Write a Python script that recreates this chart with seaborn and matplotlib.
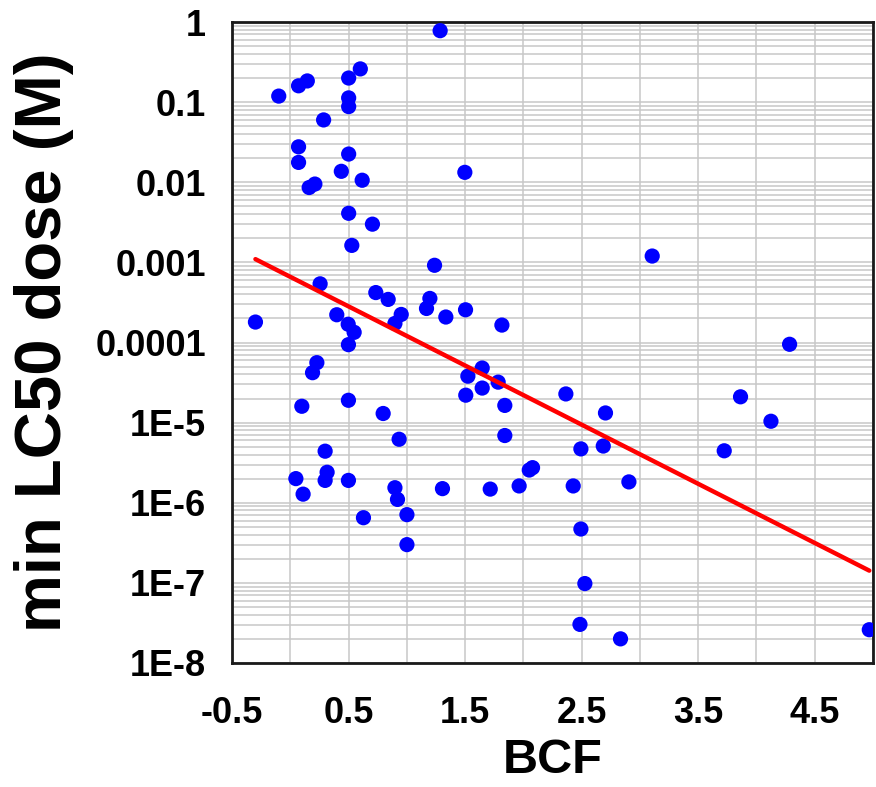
import numpy as np
import pandas as pd
import matplotlib
matplotlib.use("Agg")
import matplotlib.pyplot as plt
import seaborn as sns
from matplotlib.ticker import LogLocator, NullFormatter, MultipleLocator

bcf = [-0.30, -0.10, 0.07, 0.145, 0.50, 0.60, 0.50, 0.50, 0.285, 0.07, 0.07, 0.50,
       0.437, 0.616, 0.161, 0.21, 0.50, 0.704, 0.527, 1.285, 1.497, 1.237, 3.105, 0.255,
       0.733, 0.839, 1.197, 1.168, 1.503, 1.334, 0.951, 0.897, 0.398, 0.496,
       0.547, 0.498, 1.815, 0.227, 0.19, 1.646, 1.523, 1.783, 1.646, 1.505,
       1.84, 0.098, 0.498, 0.796, 1.84, 0.933, 0.298, 2.078, 2.05, 0.315,
       0.298, 0.047, 0.498, 0.109, 0.897, 0.919, 1.305, 1.715, 1.963, 0.627,
       1.0, 1.0,
       4.284, 2.364, 3.863, 2.704, 4.124, 2.493, 2.685, 3.723, 2.427, 2.905,
       2.493, 2.527, 2.485, 2.833, 4.968]
lc50 = [1.8e-4, 0.119, 0.16, 0.184, 0.2, 0.26, 0.113, 0.088, 0.06, 0.0277, 0.0177, 0.0225,
        0.0137, 0.0106, 0.0086, 0.0095, 0.0041, 0.0030, 0.00163, 0.78, 0.0133, 0.00092, 0.0012, 5.4e-4,
        4.2e-4, 3.45e-4, 3.55e-4, 2.66e-4, 2.56e-4, 2.08e-4, 2.24e-4, 1.73e-4, 2.22e-4, 1.69e-4,
        1.34e-4, 9.4e-5, 1.65e-4, 5.6e-5, 4.2e-5, 4.8e-5, 3.8e-5, 3.2e-5, 2.7e-5, 2.2e-5,
        1.64e-5, 1.6e-5, 1.9e-5, 1.3e-5, 6.9e-6, 6.2e-6, 4.4e-6, 2.74e-6, 2.56e-6, 2.4e-6,
        1.9e-6, 2.0e-6, 1.9e-6, 1.28e-6, 1.54e-6, 1.1e-6, 1.5e-6, 1.48e-6, 1.62e-6, 6.5e-7,
        7.1e-7, 3.0e-7,
        9.5e-5, 2.28e-5, 2.1e-5, 1.32e-5, 1.04e-5, 4.7e-6, 5.1e-6, 4.45e-6, 1.62e-6, 1.82e-6,
        4.7e-7, 9.8e-8, 3.03e-8, 2.0e-8, 2.6e-8]

# regression of log10(LC50) on BCF
fit_slope = -0.738
fit_intercept = -3.181

x_ticks = [-0.5, 0.5, 1.5, 2.5, 3.5, 4.5]
x_tick_labels = ["-0.5", "0.5", "1.5", "2.5", "3.5", "4.5"]
y_ticks = [1e-8, 1e-7, 1e-6, 1e-5, 1e-4, 1e-3, 1e-2, 1e-1, 1]
y_tick_labels = ["1E-8", "1E-7", "1E-6", "1E-5", "0.0001", "0.001", "0.01", "0.1", "1"]

df = pd.DataFrame({"BCF": bcf, "LC50": lc50})
fx = np.array([min(bcf), max(bcf)])
line_df = pd.DataFrame({"BCF": fx, "LC50": 10 ** (fit_intercept + fit_slope * fx)})

sns.set_style("white")
plt.rcParams["font.family"] = ["Liberation Sans", "DejaVu Sans"]
plt.rcParams["text.color"] = "black"
plt.rcParams["axes.labelcolor"] = "black"
plt.rcParams["xtick.color"] = "black"
plt.rcParams["ytick.color"] = "black"

fig = plt.figure(figsize=(8.76, 7.87), dpi=100)
ax = fig.add_axes([0.265, 0.1576, 0.7316, 0.8144])

ax.set_yscale("log")
ax.set_xlim(-0.5, 5.0)
ax.set_ylim(1e-8, 1)

# grid
ax.xaxis.set_minor_locator(MultipleLocator(0.5))
ax.yaxis.set_minor_locator(LogLocator(base=10, subs=np.arange(2, 10), numticks=50))
ax.yaxis.set_minor_formatter(NullFormatter())
ax.grid(True, which="both", axis="both", color="#c8c8c8", linewidth=1.1)
ax.set_axisbelow(True)

sns.scatterplot(data=df, x="BCF", y="LC50", ax=ax, color="#0000ff", s=120,
                edgecolor="none", linewidth=0, zorder=3)
sns.lineplot(data=line_df, x="BCF", y="LC50", ax=ax, color="#ff0000", linewidth=3.2,
             zorder=4)

ax.set_xticks(x_ticks)
ax.set_xticklabels(x_tick_labels)
ax.set_yticks(y_ticks)
ax.set_yticklabels(y_tick_labels)
ax.tick_params(axis="both", which="both", length=0, colors="black")
ax.tick_params(axis="x", pad=24)
ax.tick_params(axis="y", pad=19)
for lab in ax.get_xticklabels() + ax.get_yticklabels():
    lab.set_fontweight("bold")
    lab.set_fontsize(26)
    lab.set_color("black")

ax.set_xlabel("BCF", fontsize=35, fontweight="bold", labelpad=5, color="black")
ax.set_ylabel("min LC50 dose (M)", fontsize=47, fontweight="bold", labelpad=15, color="black")

for sp in ax.spines.values():
    sp.set_visible(True)
    sp.set_color("#1a1a1a")
    sp.set_linewidth(2)

fig.savefig("out.png", dpi=100)
